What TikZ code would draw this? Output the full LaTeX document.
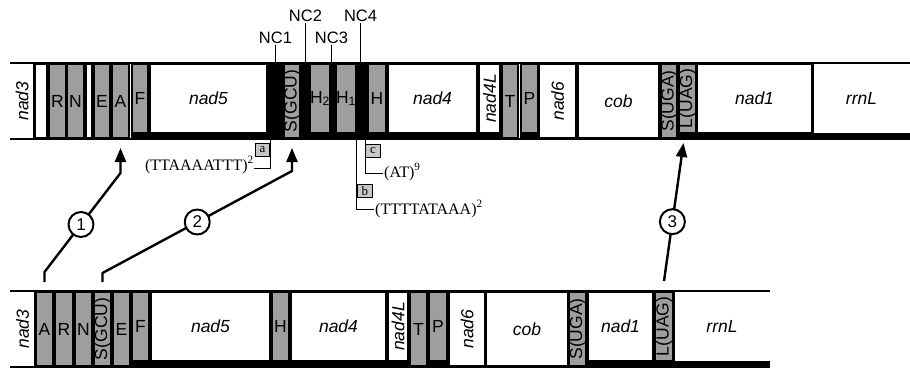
\documentclass[tikz,border=0pt]{standalone}
\usepackage{fontspec}
\setmainfont{Liberation Serif}
\setsansfont{Liberation Sans}
\usetikzlibrary{positioning,arrows.meta}

\begin{document}
\begin{tikzpicture}[x=1pt, y=-1pt,
  strand/.style={line width=1.5pt},
  gene/.style={draw, line width=1.1pt, fill=white, inner sep=0pt, outer sep=0pt, anchor=north west, minimum height=74pt, font=\sffamily\itshape\fontsize{17.5}{17.5}\selectfont},
  trna/.style={gene, fill=black!38, font=\sffamily\fontsize{17.5}{17.5}\selectfont},
  minus/.style={minimum height=69pt},
  gw/.style={minimum width=#1pt},
  openend/.style={draw=none},
  vlab/.style={label={[rotate=90, inner sep=0pt, font=\sffamily\fontsize{17.5}{17.5}\selectfont]center:#1}},
  vilab/.style={label={[rotate=90, inner sep=0pt, font=\sffamily\itshape\fontsize{17.5}{17.5}\selectfont]center:#1}},
  ncr/.style={fill=black, inner sep=0pt, outer sep=0pt, anchor=north west, minimum height=76pt},
  nclab/.style={inner sep=1pt, font=\sffamily\fontsize{16.5}{16.5}\selectfont},
  leader/.style={line width=0.8pt},
  tag/.style={draw, line width=0.8pt, fill=black!22, inner sep=0pt, minimum width=14pt, minimum height=12.5pt, font=\fontsize{13}{13}\selectfont},
  seq/.style={inner sep=0pt, font=\fontsize{16}{16}\selectfont},
  route/.style={line width=2.4pt, line join=round, -{Triangle[length=14pt, width=11pt]}},
  circ/.style={circle, draw, line width=2pt, fill=white, minimum size=25pt, inner sep=0pt, font=\sffamily\fontsize{17}{17}\selectfont}]
\useasboundingbox (0,0) rectangle (910,369);

% upper map
\draw[strand] (10,63) -- (910,63);
\draw[strand] (10,139) -- (910,139);
\fill (131,133) rectangle (501,139.5);
\fill (520,133) rectangle (539,139.5);
\fill (678,133) rectangle (910,139.5);
\node[ncr, gw=17] (t-NC1) at (267,63) {};
\node[ncr, gw=9] (t-NC2) at (301,63) {};
\node[ncr, gw=9] (t-NC3) at (327,63) {};
\node[ncr, gw=15] (t-NC4) at (353,63) {};

\node[gene, gw=24, openend, vilab=nad3] (t-nad3) at (10,64) {};
\node[gene, gw=12] (t-gap1) at (35,64) {};
\node[trna, gw=17] (t-R) at (49,64) {R};
\node[trna, gw=17] (t-N) at (67,64) {N};
\node[gene, gw=6] (t-gap2) at (86,64) {};
\node[trna, gw=16] (t-E) at (94,64) {E};
\node[trna, gw=17] (t-A) at (112,64) {A};
\node[trna, gw=16, minus] (t-F) at (132,64) {F};
\node[gene, gw=117, minus] (t-nad5) at (150,64) {nad5};
\node[trna, gw=16, vlab=S(GCU)] (t-SGCU) at (284,64) {};
\node[trna, gw=17, minus] (t-H2) at (310,64) {H\textsubscript{2}};
\node[trna, gw=17, minus] (t-H1) at (336,64) {H\textsubscript{1}};
\node[trna, gw=18, minus] (t-H) at (368,64) {H};
\node[gene, gw=89, minus] (t-nad4) at (388,64) {nad4};
\node[gene, gw=21, minus, vilab=nad4L] (t-nad4L) at (479,64) {};
\node[trna, gw=16] (t-T) at (502,64) {T};
\node[trna, gw=17, minus] (t-P) at (521,64) {P};
\node[gene, gw=37, vilab=nad6] (t-nad6) at (539,64) {};
\node[gene, gw=81] (t-cob) at (578,64) {cob};
\node[trna, gw=16, vlab=S(UGA)] (t-SUGA) at (661,64) {};
\node[trna, gw=17, minus, vlab=L(UAG)] (t-LUAG) at (679,64) {};
\node[gene, gw=115, minus] (t-nad1) at (697,64) {nad1};
\node[gene, gw=97, minus, openend] (t-rrnL) at (813,64) {rrnL};
\draw[line width=1.1pt] (t-nad3.north east) -- (t-nad3.south east);
\draw[line width=1.1pt] (t-rrnL.north west) -- (t-rrnL.south west);

% non-coding regions
\node[nclab, above=18pt of t-NC1] (lab-NC1) {NC1};
\node[nclab, above=40pt of t-NC2] (lab-NC2) {NC2};
\node[nclab, above=18pt of t-NC3] (lab-NC3) {NC3};
\node[nclab, above=40pt of t-NC4] (lab-NC4) {NC4};
\draw[leader] (lab-NC1) -- (t-NC1);
\draw[leader] (lab-NC2) -- (t-NC2);
\draw[leader] (lab-NC3) -- (t-NC3);
\draw[leader] (lab-NC4) -- (t-NC4);

\coordinate (a-root) at ([xshift=3pt]t-NC1.south west);
\coordinate (b-root) at ([xshift=3pt]t-NC4.south west);
\coordinate (c-root) at ([xshift=-3pt]t-NC4.south east);
\node[tag, anchor=north east] (tag-a) at ([yshift=-4pt]a-root) {a};
\node[tag, anchor=north west, minimum width=15pt] (tag-b) at ([xshift=1pt, yshift=-45pt]b-root) {b};
\node[tag, anchor=north west, minimum width=15pt] (tag-c) at ([yshift=-5pt]c-root) {c};
\node[seq, anchor=east] (seq-a) at (254,165) {(TTAAAATTT)\textsuperscript{2}};
\node[seq, anchor=west] (seq-b) at (375,209) {(TTTTATAAA)\textsuperscript{2}};
\node[seq, anchor=west] (seq-c) at (384,172) {(AT)\textsuperscript{9}};
\draw[leader] (a-root) |- ([yshift=-3pt]seq-a.east);
\draw[leader] (b-root) |- ([xshift=-1pt]seq-b.west);
\draw[leader] (c-root) |- ([xshift=-1pt, yshift=-1pt]seq-c.west);

% lower map
\draw[strand] (10,291) -- (770,291);
\draw[strand] (10,367) -- (770,367);
\fill (131,361) rectangle (409,367.5);
\fill (428,361) rectangle (448,367.5);
\fill (587,361) rectangle (770,367.5);

\node[gene, gw=25, openend, vilab=nad3] (b-nad3) at (10,292) {};
\node[trna, gw=17] (b-A) at (36,292) {A};
\node[trna, gw=18] (b-R) at (55,292) {R};
\node[trna, gw=17] (b-N) at (75,292) {N};
\node[trna, gw=17, vlab=S(GCU)] (b-SGCU) at (94,292) {};
\node[trna, gw=17] (b-E) at (113,292) {E};
\node[trna, gw=17, minus] (b-F) at (132,292) {F};
\node[gene, gw=119, minus] (b-nad5) at (151,292) {nad5};
\node[trna, gw=17, minus] (b-H) at (272,292) {H};
\node[gene, gw=95, minus] (b-nad4) at (291,292) {nad4};
\node[gene, gw=20, minus, vilab=nad4L] (b-nad4L) at (388,292) {};
\node[trna, gw=17] (b-T) at (410,292) {T};
\node[trna, gw=18, minus] (b-P) at (429,292) {P};
\node[gene, gw=36, vilab=nad6] (b-nad6) at (449,292) {};
\node[gene, gw=82] (b-cob) at (486,292) {cob};
\node[trna, gw=17, vlab=S(UGA)] (b-SUGA) at (569,292) {};
\node[gene, gw=65, minus] (b-nad1) at (588,292) {nad1};
\node[trna, gw=18, minus, vlab=L(UAG)] (b-LUAG) at (655,292) {};
\node[gene, gw=96, minus, openend] (b-rrnL) at (674,292) {rrnL};
\draw[line width=1.1pt] (b-nad3.north east) -- (b-nad3.south east);
\draw[line width=1.1pt] (b-rrnL.north west) -- (b-rrnL.south west);

% rearrangements
\draw[route] ([yshift=10pt]b-A.north) -- ++(0,-10) -- node[circ, pos=0.48] (m1) {1} ([yshift=-35pt]t-A.south) -- ([yshift=-10pt]t-A.south);
\draw[route] ([yshift=10pt]b-SGCU.north) -- ++(0,-9) -- node[circ, pos=0.5] (m2) {2} ([yshift=-33pt]t-SGCU.south) -- ([yshift=-10pt]t-SGCU.south);
\draw[route] ([yshift=11pt]b-LUAG.north) -- node[circ, pos=0.43] (m3) {3} ([xshift=-4pt, yshift=-10pt]t-LUAG.south);
\end{tikzpicture}
\end{document}
